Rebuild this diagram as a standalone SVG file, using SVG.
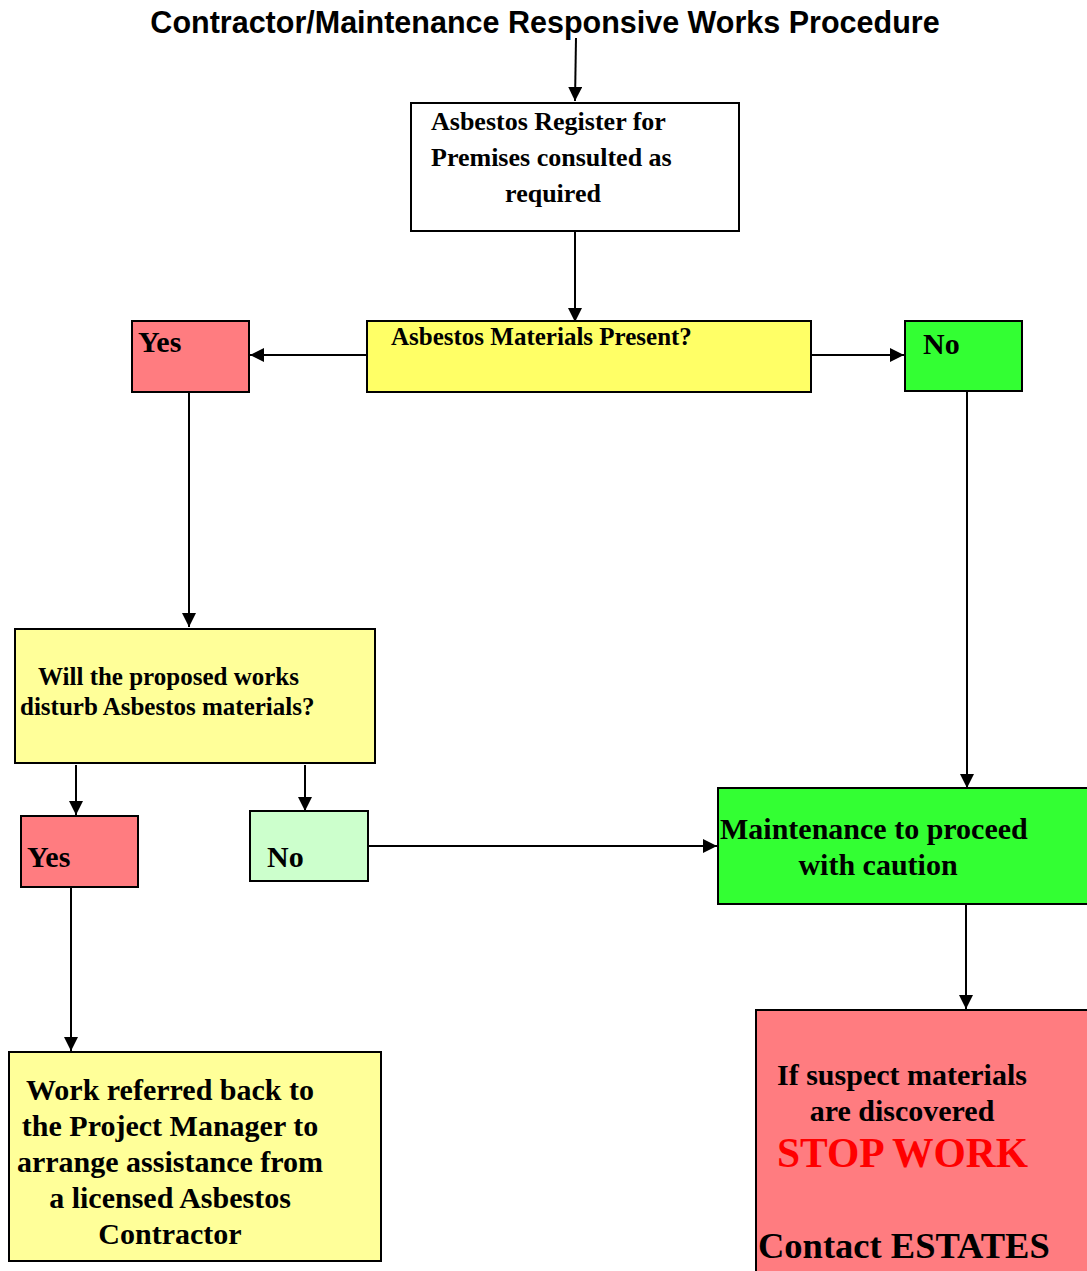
<svg xmlns="http://www.w3.org/2000/svg" width="1087" height="1271" viewBox="0 0 1087 1271">
<style>
.box{stroke:#000;stroke-width:2}
.t{font-family:"Liberation Serif","Times New Roman",serif;font-weight:bold;fill:#000}
.title{font-family:"Liberation Sans",Arial,sans-serif;font-weight:bold;font-size:30.5px;fill:#000}
.c{fill:none;stroke:#000;stroke-width:2}
</style>
<defs>
<marker id="a" viewBox="0 0 12 12" refX="12" refY="6" markerWidth="14" markerHeight="14" markerUnits="userSpaceOnUse" orient="auto"><path d="M0,0 L12,6 L0,12 z" fill="#000"/></marker>
</defs>
<rect width="1087" height="1271" fill="#fff"/>
<text class="title" x="545" y="33" text-anchor="middle">Contractor/Maintenance Responsive Works Procedure</text>
<g id="connectors">
<line class="c" x1="576" y1="38" x2="575" y2="101" marker-end="url(#a)"/>
<line class="c" x1="575" y1="231" x2="575" y2="322" marker-end="url(#a)"/>
<line class="c" x1="367" y1="355" x2="250" y2="355" marker-end="url(#a)"/>
<line class="c" x1="811" y1="355" x2="904" y2="355" marker-end="url(#a)"/>
<line class="c" x1="189" y1="392" x2="189" y2="627" marker-end="url(#a)"/>
<line class="c" x1="967" y1="391" x2="967" y2="788" marker-end="url(#a)"/>
<line class="c" x1="76" y1="765" x2="76" y2="815" marker-end="url(#a)"/>
<line class="c" x1="305" y1="765" x2="305" y2="811" marker-end="url(#a)"/>
<line class="c" x1="368" y1="846" x2="717" y2="846" marker-end="url(#a)"/>
<line class="c" x1="966" y1="904" x2="966" y2="1009" marker-end="url(#a)"/>
<line class="c" x1="71" y1="887" x2="71" y2="1051" marker-end="url(#a)"/>
</g>
<g id="register">
<rect class="box" x="411" y="103" width="328" height="128" fill="#fff"/>
<text class="t" font-size="26" x="431" y="130">Asbestos Register for</text>
<text class="t" font-size="26" x="431" y="166">Premises consulted as</text>
<text class="t" font-size="26" x="553" y="202" text-anchor="middle">required</text>
</g>
<g id="present">
<rect class="box" x="367" y="321" width="444" height="71" fill="#FFFF66"/>
<text class="t" font-size="25" x="391" y="345">Asbestos Materials Present?</text>
</g>
<g id="yes1">
<rect class="box" x="132" y="321" width="117" height="71" fill="#FF7C80"/>
<text class="t" font-size="30" x="138" y="352">Yes</text>
</g>
<g id="no1">
<rect class="box" x="905" y="321" width="117" height="70" fill="#33FF33"/>
<text class="t" font-size="30" x="923" y="354">No</text>
</g>
<g id="disturb">
<rect class="box" x="15" y="629" width="360" height="134" fill="#FFFF99"/>
<text class="t" font-size="25" x="38" y="685">Will the proposed works</text>
<text class="t" font-size="25" x="20" y="715">disturb Asbestos materials?</text>
</g>
<g id="yes2">
<rect class="box" x="21" y="816" width="117" height="71" fill="#FF7C80"/>
<text class="t" font-size="30" x="27" y="867">Yes</text>
</g>
<g id="no2">
<rect class="box" x="250" y="811" width="118" height="70" fill="#CCFFCC"/>
<text class="t" font-size="30" x="267" y="867">No</text>
</g>
<g id="proceed">
<rect class="box" x="718" y="788" width="372" height="116" fill="#33FF33"/>
<text class="t" font-size="30" x="720" y="839">Maintenance to proceed</text>
<text class="t" font-size="30" x="878" y="875" text-anchor="middle">with caution</text>
</g>
<g id="referred">
<rect class="box" x="9" y="1052" width="372" height="209" fill="#FFFF99"/>
<text class="t" font-size="30" x="170" y="1100" text-anchor="middle">Work referred back to</text>
<text class="t" font-size="30" x="170" y="1136" text-anchor="middle">the Project Manager to</text>
<text class="t" font-size="30" x="170" y="1172" text-anchor="middle">arrange assistance from</text>
<text class="t" font-size="30" x="170" y="1208" text-anchor="middle">a licensed Asbestos</text>
<text class="t" font-size="30" x="170" y="1244" text-anchor="middle">Contractor</text>
</g>
<g id="stop">
<rect class="box" x="756" y="1010" width="340" height="270" fill="#FF7C80"/>
<text class="t" font-size="30" x="777" y="1085">If suspect materials</text>
<text class="t" font-size="30" x="902" y="1121" text-anchor="middle">are discovered</text>
<text class="t" font-size="41.5" x="777" y="1167" style="fill:#FF0000">STOP WORK</text>
<text class="t" font-size="36.5" x="758" y="1258">Contact ESTATES</text>
</g>
</svg>
